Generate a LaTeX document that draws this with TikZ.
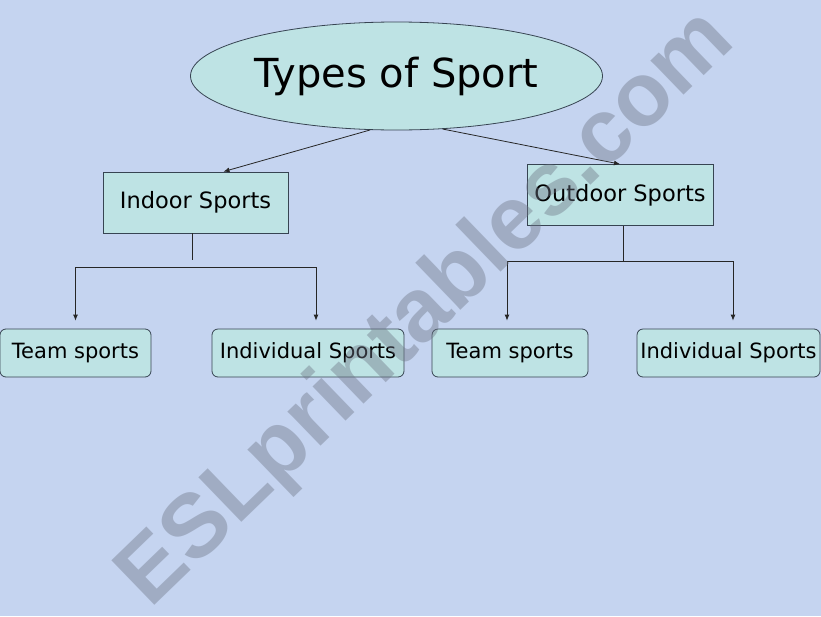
\documentclass[tikz,border=0pt]{standalone}
\usepackage{fontspec}
\setmainfont{DejaVu Sans}
\newfontfamily\markfont{Liberation Sans}
\usepackage{tikz}
\usetikzlibrary{arrows.meta,shapes.geometric}

\definecolor{paper}{RGB}{197,212,240}
\definecolor{boxfill}{RGB}{190,227,228}
\definecolor{boxline}{RGB}{55,68,82}
\definecolor{markgray}{RGB}{110,118,135}

\begin{document}
\begin{tikzpicture}[x=1pt, y=-1pt,
    topic/.style = {draw=boxline, ellipse, fill=boxfill, line width=0.8pt,
        minimum width=412pt, minimum height=108pt, font=\fontsize{40}{44}\selectfont},
    group/.style = {draw=boxline, fill=boxfill, line width=0.8pt, inner sep=0pt,
        minimum height=61pt, font=\fontsize{22.5}{24}\selectfont},
    kind/.style = {draw=boxline, fill=boxfill, line width=0.8pt, inner sep=0pt,
        rounded corners=6pt, minimum height=48pt, font=\fontsize{21}{23}\selectfont},
    link/.style = {draw=black!85, line width=0.8pt},
    arr/.style = {link, -{Latex[length=6pt,width=5pt]}}]

    \fill[paper] (0,0) rectangle (821,616);
    \useasboundingbox (0,0) rectangle (821,616);

    \node[topic] (types) at (396.5,76) {Types of Sport};
    \node[group, minimum width=185pt] (indoor) at (195.5,202.5) {Indoor Sports};
    \node[group, minimum width=186pt] (outdoor) at (620,195) {Outdoor Sports};

    \node[kind, minimum width=151pt] (teamA) at (75.5,353) {Team sports};
    \node[kind, minimum width=192pt] (soloA) at (308,353) {Individual Sports};
    \node[kind, minimum width=156pt] (teamB) at (510,353) {Team sports};
    \node[kind, minimum width=183pt] (soloB) at (728.5,353) {Individual Sports};

    \coordinate (joinA) at (192,267);
    \coordinate (joinB) at (623,261);

    % top level
    \draw[arr] (types.244) -- ([xshift=28pt]indoor.north);
    \draw[arr] (types.311) -- (outdoor.north);

    % indoor branch
    \draw[link] ([xshift=-3.5pt]indoor.south) -- ++(0,27);
    \draw[arr, shorten >=8pt] (joinA) -| (teamA.north);
    \draw[arr, shorten >=8pt] (joinA) -| ([xshift=8pt]soloA.north);

    % outdoor branch
    \draw[link] ([xshift=3pt]outdoor.south) -- (joinB);
    \draw[arr, shorten >=8pt] (joinB) -| ([xshift=-3pt]teamB.north);
    \draw[arr, shorten >=8pt] (joinB) -| ([xshift=4.5pt]soloB.north);

    \node[rotate=44, text=markgray, opacity=0.42, font=\markfont\bfseries\fontsize{90}{96}\selectfont]
        (mark) at (428,310) {ESLprintables.com};
\end{tikzpicture}
\end{document}
